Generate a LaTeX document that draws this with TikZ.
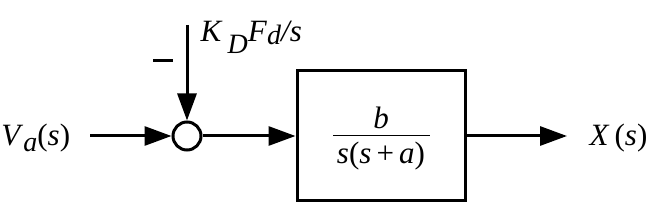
\documentclass[tikz,border=0pt]{standalone}
\usepackage{fontspec}
\setmainfont{Liberation Serif}
\usetikzlibrary{arrows.meta}
\newcommand{\ivar}[1]{\textit{#1}}
\newcommand{\lowsub}[2]{\raisebox{#1}{\fontsize{28}{28}\selectfont\textit{#2}}}
\begin{document}
\begin{tikzpicture}[x=1pt,y=-1pt,line width=3pt,
  font=\fontsize{31}{34}\selectfont,
  arr/.style={-{Triangle[length=27pt,width=19pt]}},
  lbl/.style={inner sep=0pt}]
\useasboundingbox (0,0) rectangle (660,205);
\node[circle,draw,minimum size=28pt,inner sep=0pt] (sum) at (187,136) {};
\node[draw,minimum width=168pt,minimum height=130pt,inner sep=0pt] (G) at (381,136) {};
\node[lbl] (num) at (381,118) {\ivar{b}};
\node[lbl] (den) at (381,156) {\ivar{s}(\ivar{s}\,+\,\ivar{a})};
\draw[line width=1pt] (333,136) -- (430,136);
\coordinate (in) at (90,136);
\coordinate (top) at (187,25);
\coordinate (out) at (567,136);
\node[lbl,anchor=base west] (Va) at (0,146) {\ivar{V}\lowsub{-6pt}{a}(\ivar{s})};
\node[lbl,anchor=base west] (X) at (588,146) {\ivar{X}\,(\ivar{s})};
\node[lbl,anchor=base west] (Kd) at (199,42) {\ivar{K}\,\lowsub{-12pt}{D}\ivar{F}\lowsub{-3pt}{d}\ivar{/s}};
\node[lbl] (minus) at (163,61) {\rule{20pt}{3pt}};
\draw[arr] (in) -- (sum.west);
\draw[arr] (top) -- (sum.north);
\draw[arr] (sum.east) -- (G.west);
\draw[arr] (G.east) -- (out);
\end{tikzpicture}
\end{document}
